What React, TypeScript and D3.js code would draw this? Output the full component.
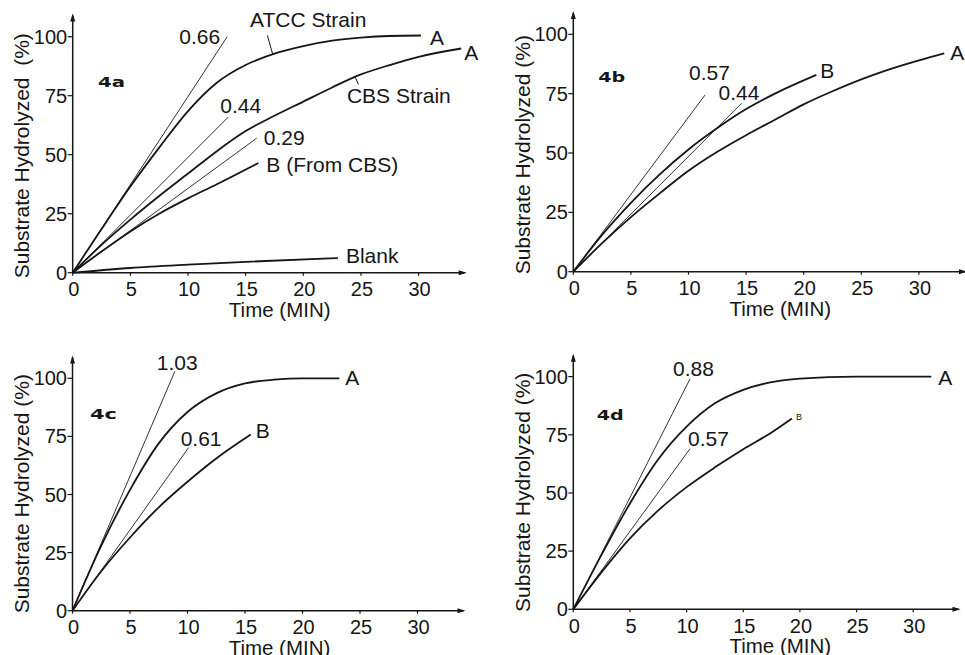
import React from "react";
import * as d3 from "d3";

// tick values shared by all four panels
const xTicks = [0, 5, 10, 15, 20, 25, 30];
const yTicks = [0, 25, 50, 75, 100];

// 4a  [time (min), substrate hydrolyzed (%)]
const atcc4a = [[0, 0], [2.5, 18.5], [5, 36.5], [7.5, 53], [10, 68.5], [12.5, 80.5], [15, 88], [17.5, 92.8], [20, 96], [22.5, 98.3], [25, 99.6], [27.5, 100.3], [30.2, 100.5]];
const cbs4a = [[0, 0], [2.5, 11.8], [5, 22.5], [7.5, 32.5], [10, 42], [12.5, 51.5], [15, 60], [17.5, 66.5], [20, 72.5], [22.5, 78.5], [25, 84], [27.5, 88], [30, 91.5], [33.7, 95]];
const bCbs4a = [[0, 0], [2.5, 9], [5, 17.5], [7.5, 25], [10, 31.5], [12.5, 37.5], [16.1, 46.5]];
const blank4a = [[0, 0], [5, 2], [10, 3.4], [15, 4.6], [23, 6.2]];
const slopes4a = [{ v: "0.66", end: [13.4, 100] }, { v: "0.44", end: [13.5, 66] }, { v: "0.29", end: [15.96, 57] }];

// 4b
const a4b = [[0, 0], [2.5, 12], [5, 23], [7.5, 33], [10, 42.5], [12.5, 50.5], [15, 57.5], [17.5, 64], [20, 70.5], [22.5, 76], [25, 81], [27.5, 85.3], [30, 89], [32.2, 92]];
const b4b = [[0, 0], [2.5, 15.5], [5, 29], [7.5, 41], [10, 51.5], [12.5, 60.5], [15, 68.5], [17.5, 75], [21.1, 82.9]];
const slopes4b = [{ v: "0.57", end: [11.43, 74.4] }, { v: "0.44", end: [14.6, 70.9] }];

// 4c
const a4c = [[0, 0], [2.5, 28], [5, 52], [7.5, 72], [10, 85.5], [12.5, 93.5], [15, 97.8], [17.5, 99.4], [20, 100], [23.2, 100]];
const b4c = [[0, 0], [2.5, 17], [5, 31.5], [7.5, 44.5], [10, 55.5], [12.5, 65.5], [15.5, 75.8]];
const slopes4c = [{ v: "1.03", end: [8.9, 103] }, { v: "0.61", end: [10.1, 70.2] }];

// 4d
const a4d = [[0, 0], [2.5, 23.5], [5, 45.5], [7.5, 64.5], [10, 78.5], [12.5, 88.5], [15, 94.3], [17.5, 97.6], [20, 99.1], [25, 100], [31.6, 100]];
const b4d = [[0, 0], [2.5, 16], [5, 30.5], [7.5, 42.5], [10, 52.5], [12.5, 61], [15, 68.8], [17.5, 76], [19.3, 82]];
const slopes4d = [{ v: "0.88", end: [10.3, 99] }, { v: "0.57", end: [10.3, 69] }];

const font = "'Liberation Sans', Arial, Helvetica, sans-serif";
const ink = "#161616";

const panels = [
  {
    id: "4a", ox: 72.7, oy: 272.7, kx: 11.53, ky: 2.36, idPos: [98, 86.7],
    title: "Substrate Hydrolyzed  (%)",
    curves: [
      { data: atcc4a, label: "A", dx: 9, dy: 9.5 },
      { data: cbs4a, label: "A", dx: 3, dy: 11 },
      { data: bCbs4a, label: "B (From CBS)", dx: 8, dy: 9 },
      { data: blank4a, label: "Blank", dx: 8, dy: 5 },
    ],
    slopes: slopes4a.map((s, i) => ({ ...s, dx: [-7, -8, 7][i], dy: [7, -4, 7][i], anchor: ["end", "start", "start"][i] })),
    leaders: [
      { data: atcc4a, t: 17.35, lx: -5.4, ly: -19, text: "ATCC Strain", tx: -22.7, ty: -27.3 },
      { data: cbs4a, t: 24.5, lx: 3.3, ly: 7.4, text: "CBS Strain", tx: -8.3, ty: 26 },
    ],
  },
  {
    id: "4b", ox: 573.3, oy: 271.7, kx: 11.52, ky: 2.374, idPos: [598.3, 81.7],
    title: "Substrate Hydrolyzed (%)",
    curves: [
      { data: a4b, label: "A", dx: 6, dy: 7 },
      { data: b4b, label: "B", dx: 4, dy: 3.5 },
    ],
    slopes: slopes4b.map((s, i) => ({ ...s, dx: [-16, -23][i], dy: [-15, -3][i], anchor: "start" })),
    leaders: [],
  },
  {
    id: "4c", ox: 72.5, oy: 610.7, kx: 11.5, ky: 2.324, idPos: [90, 419.3],
    title: "Substrate Hydrolyzed (%)",
    curves: [
      { data: a4c, label: "A", dx: 6, dy: 7 },
      { data: b4c, label: "B", dx: 5, dy: 3 },
    ],
    slopes: slopes4c.map((s, i) => ({ ...s, dx: [-18, -8][i], dy: [-1, -2][i], anchor: "start" })),
    leaders: [],
  },
  {
    id: "4d", ox: 573.3, oy: 609.3, kx: 11.33, ky: 2.327, idPos: [596.7, 420],
    title: "Substrate Hydrolyzed (%)",
    curves: [
      { data: a4d, label: "A", dx: 7, dy: 8 },
      { data: b4d, label: "B", dx: 4, dy: 2, size: 9 },
    ],
    slopes: slopes4d.map((s, i) => ({ ...s, dx: [-17, -2][i], dy: [-3, -3][i], anchor: "start" })),
    leaders: [],
  },
];

function Panel({ p }) {
  const x = d3.scaleLinear().domain([0, 30]).range([p.ox, p.ox + 30 * p.kx]);
  const y = d3.scaleLinear().domain([0, 100]).range([p.oy, p.oy - 100 * p.ky]);
  const line = d3.line().x((d) => x(d[0])).y((d) => y(d[1])).curve(d3.curveMonotoneX);
  const xEnd = x(34);
  const yTop = y(109);
  const at = (data, t) =>
    d3.scaleLinear().domain(data.map((d) => d[0])).range(data.map((d) => d[1]))(t);

  return (
    <g>
      {/* axes */}
      <line x1={p.ox} y1={p.oy} x2={xEnd} y2={p.oy} stroke={ink} strokeWidth={1.5} />
      <line x1={p.ox} y1={p.oy} x2={p.ox} y2={yTop} stroke={ink} strokeWidth={1.5} />
      <path d={`M${xEnd + 2},${p.oy} l-8,-2.5 l0,5 z`} fill={ink} />
      <path d={`M${p.ox},${yTop - 2} l-2.5,8 l5,0 z`} fill={ink} />
      {yTicks.map((v) => (
        <g key={"y" + v}>
          <line x1={p.ox - 5} x2={p.ox} y1={y(v)} y2={y(v)} stroke={ink} strokeWidth={1.2} />
          <text x={p.ox - 5.5} y={y(v) + 7} textAnchor="end" fontSize={20} fontFamily={font} fill={ink}>{v}</text>
        </g>
      ))}
      {xTicks.map((v) => (
        <g key={"x" + v}>
          <line x1={x(v)} x2={x(v)} y1={p.oy} y2={p.oy + 3} stroke={ink} strokeWidth={1.2} />
          <text x={x(v) + 1} y={p.oy + 23.5} textAnchor="middle" fontSize={20} fontFamily={font} fill={ink}>{v}</text>
        </g>
      ))}
      <text x={p.ox + 207} y={p.oy + 44} textAnchor="middle" fontSize={20.5} fontFamily={font} fill={ink}>Time (MIN)</text>
      <text
        transform={`translate(${p.ox - 43.5},${p.oy - 117}) rotate(-90)`}
        textAnchor="middle" fontSize={21} fontFamily={font} fill={ink}
        style={{ whiteSpace: "pre" }}
      >{p.title}</text>
      <text x={p.idPos[0]} y={p.idPos[1]} fontSize={14} fontWeight="bold" fontFamily="'DejaVu Sans', sans-serif"
        textLength={27} lengthAdjust="spacingAndGlyphs" fill={ink}>{p.id}</text>

      {/* initial-rate lines */}
      {p.slopes.map((s) => {
        const ex = x(s.end[0]), ey = y(s.end[1]);
        return (
          <g key={"s" + s.v}>
            <line x1={x(0)} y1={y(0)} x2={ex} y2={ey} stroke="#333" strokeWidth={1} />
            <text x={ex + s.dx} y={ey + s.dy} textAnchor={s.anchor} fontSize={21} fontFamily={font} fill={ink}>{s.v}</text>
          </g>
        );
      })}

      {/* progress curves */}
      {p.curves.map((c, i) => {
        const last = c.data[c.data.length - 1];
        return (
          <g key={"c" + i}>
            <path d={line(c.data)} fill="none" stroke={ink} strokeWidth={1.8} />
            <text x={x(last[0]) + c.dx} y={y(last[1]) + c.dy} fontSize={c.size || 21} fontFamily={font} fill={ink}
              style={{ whiteSpace: "pre" }}>{c.label}</text>
          </g>
        );
      })}

      {p.leaders.map((l, i) => {
        const cx = x(l.t), cy = y(at(l.data, l.t));
        return (
          <g key={"l" + i}>
            <line x1={cx} y1={cy} x2={cx + l.lx} y2={cy + l.ly} stroke={ink} strokeWidth={1} />
            <text x={cx + l.tx} y={cy + l.ty} fontSize={21} fontFamily={font} fill={ink}>{l.text}</text>
          </g>
        );
      })}
    </g>
  );
}

export default function App() {
  return (
    <svg width={965} height={655} style={{ position: "absolute", left: 0, top: 0, background: "#fff" }}>
      <rect width={965} height={655} fill="#fff" />
      {panels.map((p) => (
        <Panel key={p.id} p={p} />
      ))}
    </svg>
  );
}
